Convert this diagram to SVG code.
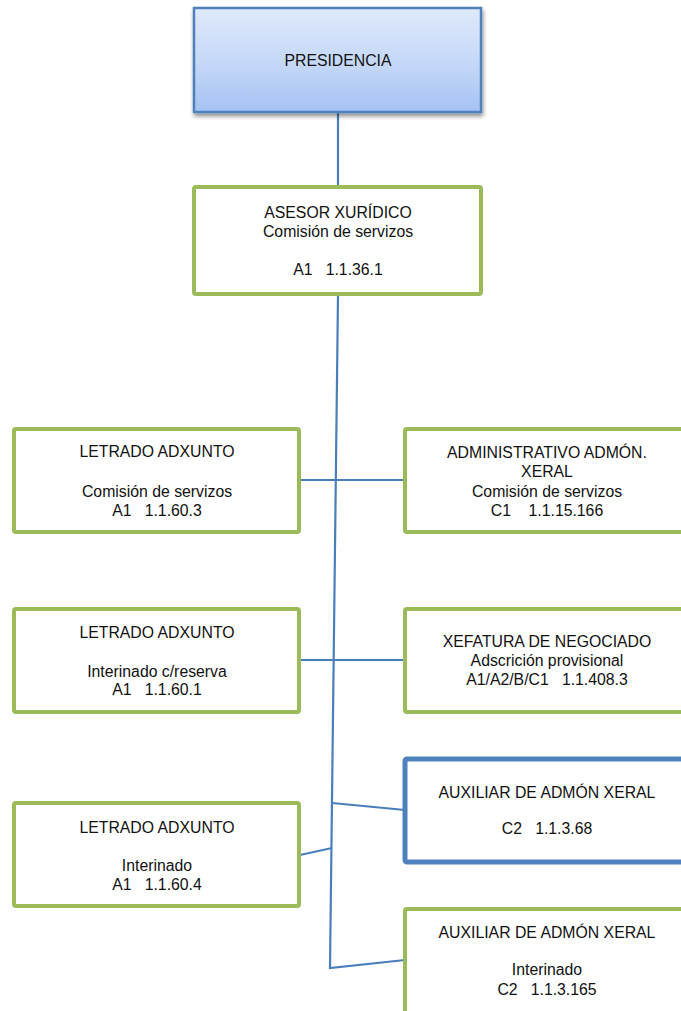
<svg xmlns="http://www.w3.org/2000/svg" width="681" height="1011" viewBox="0 0 681 1011">
<defs>
<linearGradient id="pg" x1="0" y1="0" x2="0" y2="1">
<stop offset="0" stop-color="#dfe9fb"/>
<stop offset="0.55" stop-color="#c4d7f8"/>
<stop offset="1" stop-color="#a5c2f3"/>
</linearGradient>
<filter id="sh" x="-10%" y="-10%" width="130%" height="140%">
<feGaussianBlur in="SourceAlpha" stdDeviation="2"/>
<feOffset dx="1" dy="3" result="b"/>
<feComponentTransfer><feFuncA type="linear" slope="0.45"/></feComponentTransfer>
<feMerge><feMergeNode/><feMergeNode in="SourceGraphic"/></feMerge>
</filter>
</defs>
<style>
.g{fill:#fff;stroke:#9bbb59;stroke-width:4}
.b{fill:#fff;stroke:#4f81bd;stroke-width:5}
.t{font-family:"Liberation Sans",Arial,sans-serif;font-size:15.8px;fill:#111;text-anchor:middle;white-space:pre}
.c{fill:none;stroke:#4a7ebb;stroke-width:2.2}
</style>
<g id="connectors">
<line class="c" x1="338" y1="112" x2="338" y2="186"/>
<polyline class="c" points="338,295 330,968 405,960"/>
<line class="c" x1="299" y1="480" x2="405" y2="480"/>
<line class="c" x1="299" y1="660" x2="405" y2="660"/>
<line class="c" x1="332" y1="803" x2="405" y2="810"/>
<line class="c" x1="300" y1="855" x2="332" y2="848"/>
</g>
<g id="presidencia">
<rect x="194" y="8" width="287" height="104" fill="url(#pg)" stroke="#4f81bd" stroke-width="2.5" filter="url(#sh)"/>
<text class="t" x="338" y="66">PRESIDENCIA</text>
</g>
<g id="asesor">
<rect class="g" x="194" y="187" width="287" height="107" rx="2"/>
<text class="t" x="338" y="218">ASESOR XURÍDICO</text>
<text class="t" x="338" y="237">Comisión de servizos</text>
<text class="t" x="338" y="275">A1   1.1.36.1</text>
</g>
<g id="letrado1">
<rect class="g" x="14" y="429" width="285" height="103" rx="2"/>
<text class="t" x="157" y="457">LETRADO ADXUNTO</text>
<text class="t" x="157" y="497">Comisión de servizos</text>
<text class="t" x="157" y="516">A1   1.1.60.3</text>
</g>
<g id="administrativo">
<rect class="g" x="405" y="429" width="290" height="103" rx="2"/>
<text class="t" x="547" y="458">ADMINISTRATIVO ADMÓN.</text>
<text class="t" x="547" y="477">XERAL</text>
<text class="t" x="547" y="497">Comisión de servizos</text>
<text class="t" x="547" y="516">C1    1.1.15.166</text>
</g>
<g id="letrado2">
<rect class="g" x="14" y="609" width="285" height="103" rx="2"/>
<text class="t" x="157" y="638">LETRADO ADXUNTO</text>
<text class="t" x="157" y="677">Interinado c/reserva</text>
<text class="t" x="157" y="695">A1   1.1.60.1</text>
</g>
<g id="xefatura">
<rect class="g" x="405" y="609" width="290" height="103" rx="2"/>
<text class="t" x="547" y="647">XEFATURA DE NEGOCIADO</text>
<text class="t" x="547" y="666">Adscrición provisional</text>
<text class="t" x="547" y="685">A1/A2/B/C1   1.1.408.3</text>
</g>
<g id="auxiliar1">
<rect class="b" x="405" y="759" width="290" height="103" rx="2"/>
<text class="t" x="547" y="798">AUXILIAR DE ADMÓN XERAL</text>
<text class="t" x="547" y="834">C2   1.1.3.68</text>
</g>
<g id="letrado3">
<rect class="g" x="14" y="803" width="285" height="103" rx="2"/>
<text class="t" x="157" y="833">LETRADO ADXUNTO</text>
<text class="t" x="157" y="871">Interinado</text>
<text class="t" x="157" y="890">A1   1.1.60.4</text>
</g>
<g id="auxiliar2">
<rect class="g" x="405" y="909" width="290" height="110" rx="2"/>
<text class="t" x="547" y="938">AUXILIAR DE ADMÓN XERAL</text>
<text class="t" x="547" y="975">Interinado</text>
<text class="t" x="547" y="995">C2   1.1.3.165</text>
</g>
</svg>
